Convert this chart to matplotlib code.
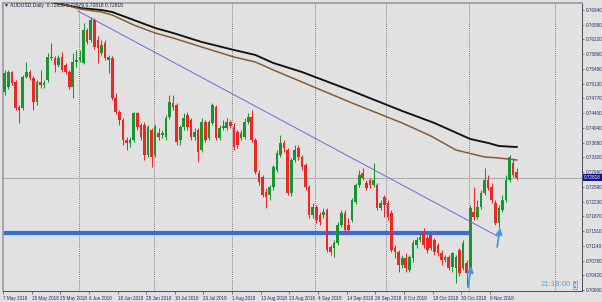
import numpy as np
import matplotlib
matplotlib.use('Agg')
import matplotlib.pyplot as plt
from matplotlib.transforms import blended_transform_factory
from matplotlib.patches import Polygon, Rectangle

# ---------------- data ----------------
OPEN = [0.74926, 0.75048, 0.75417, 0.75171, 0.74557, 0.74532, 0.75294, 0.75417, 0.75270, 0.74680,
        0.75171, 0.75098, 0.75220, 0.75786, 0.75761, 0.75589, 0.75786, 0.75589, 0.75417, 0.75048,
        0.75663, 0.75712, 0.75638, 0.76449, 0.76203, 0.76695, 0.76203, 0.75884, 0.76130, 0.75712,
        0.75761, 0.74778, 0.74434, 0.74238, 0.73746, 0.73673, 0.73746, 0.74410, 0.74115, 0.74115,
        0.73378, 0.73992, 0.73378, 0.73918, 0.73869, 0.73820, 0.74311, 0.74655, 0.74606, 0.73746,
        0.74066, 0.74360, 0.74238, 0.73820, 0.73992, 0.73501, 0.74189, 0.73795, 0.74164, 0.74557,
        0.73795, 0.74041, 0.74041, 0.74189, 0.74066, 0.73943, 0.73795, 0.73820, 0.74189, 0.74311,
        0.73746, 0.72935, 0.72837, 0.72469, 0.72395, 0.72591, 0.73009, 0.73378, 0.73673, 0.73501,
        0.72444, 0.73255, 0.73550, 0.73329, 0.73132, 0.72591, 0.71903, 0.72100, 0.71903, 0.71903,
        0.72026, 0.71117, 0.71093, 0.71216, 0.71658, 0.71953, 0.71658, 0.71781, 0.72223, 0.72641,
        0.72935, 0.72690, 0.72763, 0.72641, 0.72641, 0.72075, 0.72346, 0.72198, 0.71953, 0.71093,
        0.70994, 0.70675, 0.70847, 0.70552, 0.70847, 0.71166, 0.71289, 0.71461, 0.71338, 0.71412,
        0.71289, 0.71166, 0.70970, 0.70798, 0.70872, 0.70626, 0.70601, 0.71044, 0.70601, 0.70724,
        0.70601, 0.71977, 0.71854, 0.72100, 0.72444, 0.72763, 0.72591, 0.72198, 0.71707, 0.72026,
        0.72272, 0.72763, 0.73181, 0.72960]
HIGH = [0.75466, 0.75466, 0.75442, 0.75220, 0.74606, 0.75343, 0.75663, 0.75466, 0.75319, 0.75220,
        0.75466, 0.75220, 0.75884, 0.76130, 0.75810, 0.75835, 0.75908, 0.75638, 0.75466, 0.75884,
        0.75958, 0.75958, 0.76621, 0.76498, 0.76768, 0.76744, 0.76302, 0.76203, 0.76203, 0.75835,
        0.75810, 0.74901, 0.74483, 0.74287, 0.73820, 0.73820, 0.74434, 0.74434, 0.74164, 0.74189,
        0.74115, 0.74041, 0.74139, 0.74041, 0.73992, 0.74360, 0.74852, 0.74852, 0.74655, 0.74115,
        0.74410, 0.74434, 0.74287, 0.74041, 0.74041, 0.74287, 0.74238, 0.74238, 0.74655, 0.74606,
        0.74115, 0.74238, 0.74287, 0.74238, 0.74164, 0.73992, 0.73992, 0.74287, 0.74410, 0.74483,
        0.73795, 0.73009, 0.72886, 0.72567, 0.72641, 0.73132, 0.73501, 0.73869, 0.73746, 0.73550,
        0.73304, 0.73623, 0.73623, 0.73378, 0.73181, 0.72641, 0.72198, 0.72149, 0.71977, 0.72075,
        0.72075, 0.71166, 0.71289, 0.71731, 0.72026, 0.72026, 0.71830, 0.72321, 0.72690, 0.73009,
        0.73058, 0.72763, 0.72813, 0.73181, 0.72690, 0.72272, 0.72395, 0.72272, 0.72026, 0.71166,
        0.71044, 0.70921, 0.70970, 0.70921, 0.71289, 0.71363, 0.71461, 0.71584, 0.71412, 0.71486,
        0.71338, 0.71216, 0.71044, 0.70921, 0.70921, 0.70994, 0.70921, 0.71093, 0.71289, 0.70798,
        0.72149, 0.72591, 0.72272, 0.72518, 0.73058, 0.72886, 0.72690, 0.72272, 0.72149, 0.72395,
        0.72886, 0.73378, 0.73304, 0.73058]
LOW = [0.74852, 0.74999, 0.75098, 0.74483, 0.74164, 0.74483, 0.75270, 0.75220, 0.74483, 0.74606,
       0.75024, 0.75024, 0.75171, 0.75712, 0.75417, 0.75540, 0.75417, 0.75368, 0.74999, 0.74778,
       0.75540, 0.75663, 0.75614, 0.76105, 0.76154, 0.75982, 0.75638, 0.75835, 0.75712, 0.75392,
       0.74729, 0.74385, 0.74115, 0.73623, 0.73501, 0.73574, 0.73697, 0.73992, 0.73746, 0.73255,
       0.73329, 0.73083, 0.73329, 0.73746, 0.73795, 0.73746, 0.74262, 0.74483, 0.73623, 0.73623,
       0.73992, 0.73992, 0.73746, 0.73746, 0.73206, 0.73451, 0.73697, 0.73746, 0.74115, 0.73746,
       0.73746, 0.73992, 0.73992, 0.74041, 0.73501, 0.73550, 0.73746, 0.73771, 0.74139, 0.73697,
       0.72911, 0.72641, 0.72346, 0.72075, 0.72272, 0.72518, 0.72960, 0.73329, 0.73451, 0.72395,
       0.72370, 0.73206, 0.73255, 0.73009, 0.72518, 0.71830, 0.71830, 0.71707, 0.71658, 0.71830,
       0.70994, 0.70921, 0.70872, 0.71166, 0.71609, 0.71486, 0.71486, 0.71731, 0.72174, 0.72591,
       0.72763, 0.72518, 0.72567, 0.72591, 0.72026, 0.72026, 0.71854, 0.71781, 0.70994, 0.70847,
       0.70503, 0.70601, 0.70503, 0.70503, 0.70749, 0.71093, 0.71240, 0.71093, 0.70970, 0.71044,
       0.70921, 0.70896, 0.70675, 0.70749, 0.70552, 0.70503, 0.70233, 0.70405, 0.70552, 0.70134,
       0.70552, 0.71781, 0.71805, 0.72051, 0.72395, 0.72518, 0.72198, 0.71658, 0.71584, 0.71977,
       0.72223, 0.72714, 0.72837, 0.72763]
CLOSE = [0.75392, 0.75417, 0.75147, 0.74532, 0.74483, 0.75294, 0.75417, 0.75270, 0.74680, 0.75171,
         0.75098, 0.75147, 0.75786, 0.75761, 0.75589, 0.75761, 0.75466, 0.75417, 0.75048, 0.75663,
         0.75712, 0.75786, 0.76449, 0.76154, 0.76695, 0.76031, 0.76007, 0.76080, 0.75761, 0.75786,
         0.74778, 0.74434, 0.74238, 0.73746, 0.73673, 0.73746, 0.74410, 0.74066, 0.73820, 0.73378,
         0.74066, 0.73329, 0.74066, 0.73820, 0.73918, 0.74287, 0.74680, 0.74557, 0.73697, 0.74066,
         0.74287, 0.74066, 0.73820, 0.73943, 0.73451, 0.74189, 0.73746, 0.74189, 0.74606, 0.73795,
         0.74041, 0.74090, 0.74189, 0.74090, 0.73574, 0.73623, 0.73918, 0.74189, 0.74311, 0.73746,
         0.72960, 0.72714, 0.72395, 0.72346, 0.72591, 0.73083, 0.73427, 0.73673, 0.73550, 0.72444,
         0.73255, 0.73501, 0.73329, 0.73083, 0.72591, 0.71903, 0.72100, 0.71781, 0.71731, 0.71977,
         0.71044, 0.70994, 0.71216, 0.71658, 0.71953, 0.71535, 0.71535, 0.72272, 0.72641, 0.72886,
         0.72813, 0.72567, 0.72641, 0.72763, 0.72075, 0.72198, 0.72149, 0.71854, 0.71044, 0.70994,
         0.70675, 0.70847, 0.70601, 0.70872, 0.71216, 0.71289, 0.71363, 0.71166, 0.71044, 0.71093,
         0.70994, 0.70970, 0.70798, 0.70872, 0.70601, 0.70970, 0.70872, 0.70478, 0.71216, 0.70478,
         0.72075, 0.71854, 0.72100, 0.72444, 0.72763, 0.72567, 0.72272, 0.71707, 0.72075, 0.72272,
         0.72763, 0.73329, 0.72886, 0.72818]

# moving averages (read at selected bars)
MA_SLOW_BARS = [8, 13, 21, 27, 30, 36, 42, 47, 55, 64, 70, 75, 83, 97, 111, 120, 130, 135, 138, 143]
MA_SLOW = [0.77235, 0.77137, 0.76989, 0.76940, 0.76891, 0.76695, 0.76498, 0.76375, 0.76154, 0.75958,
           0.75835, 0.75638, 0.75417, 0.74950, 0.74459, 0.74164, 0.73771, 0.73673, 0.73599, 0.73574]
MA_FAST_BARS = [10, 15, 21, 27, 30, 36, 42, 47, 55, 64, 70, 75, 83, 97, 111, 119, 126, 134, 138, 143]
MA_FAST = [0.77235, 0.77112, 0.76965, 0.76891, 0.76817, 0.76572, 0.76375, 0.76252, 0.76031, 0.75786,
           0.75663, 0.75466, 0.75171, 0.74655, 0.74164, 0.73845, 0.73501, 0.73329, 0.73304, 0.73255]

TREND_BARS = [20.4, 137.8]
TREND_PRICES = [0.76916, 0.71375]
SUPPORT_LEVEL = 0.71473
SUPPORT_END_BAR = 130.5
LAST_PRICE = 0.72818

ARROW_FROM = [(129.4, 0.70134), (137.5, 0.71117)]
ARROW_TO = [(130.3, 0.70650), (138.4, 0.71584)]

MONTH_START_BARS = [21, 42, 64, 87, 107, 130, 154]
DATE_LABEL_BARS = [0, 8, 16, 24, 32, 40, 48, 56, 64, 72, 80, 88, 96, 104, 112, 120, 128, 136]
DATE_LABELS = ['7 May 2018', '15 May 2018', '25 May 2018', '6 Jun 2018', '18 Jun 2018',
               '28 Jun 2018', '10 Jul 2018', '20 Jul 2018', '1 Aug 2018', '13 Aug 2018',
               '23 Aug 2018', '4 Sep 2018', '14 Sep 2018', '26 Sep 2018', '8 Oct 2018',
               '18 Oct 2018', '30 Oct 2018', '9 Nov 2018']
Y_TICK_LABELS = ['0.76940', '0.76580', '0.76220', '0.75860', '0.75490', '0.75130', '0.74770',
                 '0.74400', '0.74040', '0.73680', '0.73320', '0.72960', '0.72590', '0.72230',
                 '0.71870', '0.71510', '0.71140', '0.70780', '0.70420', '0.70060']
TITLE = '\u25bc AUDUSD,Daily  0.72838 0.72879 0.72818 0.72818'
CLOCK = '21:18:00'

# ---------------- styling ----------------
BG = '#e1e1e1'
GREEN = '#17962d'
RED = '#ee2626'
AXC = '#25256e'
FONT = ['Liberation Sans', 'DejaVu Sans']

W, H = 602, 302
fig = plt.figure(figsize=(W / 100, H / 100), dpi=100, facecolor=BG)
ax = fig.add_axes([3 / W, 11 / H, 579 / W, 288 / H])
ax.set_facecolor(BG)

n = len(CLOSE)
x = np.arange(n)
o = np.array(OPEN); c = np.array(CLOSE); hi = np.array(HIGH); lo = np.array(LOW)
up = c >= o
cols = np.where(up, GREEN, RED)

# month separators
for b in MONTH_START_BARS:
    ax.axvline(b - 0.4, color='#5a5a6a', lw=0.6, ls=(0, (1, 1.5)), zorder=1)

# current price line
ax.axhline(LAST_PRICE, color='#a8a8a8', lw=0.7, zorder=1)

# support level
ax.plot([-1, SUPPORT_END_BAR], [SUPPORT_LEVEL, SUPPORT_LEVEL], color='#3b6bd6', lw=3.0,
        solid_capstyle='butt', zorder=2)

# candles
ax.vlines(x, lo, hi, colors=cols, lw=0.75, zorder=3)
body = np.maximum(np.abs(c - o), 0.00012)
ax.bar(x, body, bottom=np.minimum(o, c), width=0.74, color=cols, lw=0, zorder=4)

# moving averages
ax.plot(MA_SLOW_BARS, MA_SLOW, color='#111111', lw=1.35, zorder=5)
ax.plot(MA_FAST_BARS, MA_FAST, color='#8a5a30', lw=1.1, zorder=5)

# trend line
ax.plot(TREND_BARS, TREND_PRICES, color='#6a6ad6', lw=0.7, zorder=5)

# arrows
for (x0, y0), (x1, y1) in zip(ARROW_FROM, ARROW_TO):
    ax.annotate('', xy=(x1, y1), xytext=(x0, y0),
                arrowprops=dict(arrowstyle='-|>,head_length=0.35,head_width=0.18',
                                color='#3d9be6', lw=1.3, shrinkA=0, shrinkB=0), zorder=6)

ax.set_xlim((3 - 4) / 3.585, (582 - 4) / 3.585)
ax.set_ylim(0.70036, 0.77112)

# spines
for s in ['top', 'left']:
    ax.spines[s].set_color('#9a9aa8')
    ax.spines[s].set_linewidth(1.2)
ax.spines['right'].set_color('#4a4a5a')
ax.spines['right'].set_linewidth(0.7)
ax.spines['bottom'].set_color('#4a4a5a')
ax.spines['bottom'].set_linewidth(0.7)

# y ticks on the right
ax.yaxis.tick_right()
ax.set_yticks([float(v) for v in Y_TICK_LABELS])
ax.set_yticklabels(Y_TICK_LABELS, fontsize=3.3, color=AXC, family=FONT)
ax.tick_params(axis='y', direction='out', length=1.6, width=0.5, colors='#4a4a5a', pad=1.2,
               labelcolor=AXC)

# x ticks
ax.set_xticks([b - 0.5 for b in DATE_LABEL_BARS])
ax.set_xticklabels(DATE_LABELS, fontsize=3.3, color=AXC, family=FONT, ha='left')
ax.tick_params(axis='x', direction='out', length=2.5, width=0.5, colors='#4a4a5a', pad=0.8,
               labelcolor=AXC)
for lab in ax.get_xticklabels():
    lab.set_horizontalalignment('left')

# current price label box
tr = blended_transform_factory(ax.transAxes, ax.transData)
ax.text(1.003, LAST_PRICE, '%.5f' % LAST_PRICE, transform=tr, fontsize=3.3, family=FONT,
        color='white', va='center', ha='left', zorder=10,
        bbox=dict(boxstyle='square,pad=0.25', fc='#12128a', ec='none'))

# title
fig.text(4 / W, 1 - 6 / H, TITLE, fontsize=3.6, family=FONT, color='#1a1a3a', va='center', ha='left')

# clock
fig.text(541 / W, 1 - 285 / H, CLOCK, fontsize=5.6, family=FONT, color='#5c9ee0',
         va='center', ha='left')
# small hourglass icon
ix, iy = 575 / W, 1 - 285 / H
fig.patches.append(Rectangle((ix - 2.2 / W, iy - 4 / H), 4.4 / W, 8 / H, transform=fig.transFigure,
                             fill=False, ec='#5c9ee0', lw=0.5))
fig.patches.append(Polygon([(ix - 1.3 / W, iy + 3 / H), (ix + 1.3 / W, iy + 3 / H),
                            (ix, iy), (ix + 1.3 / W, iy - 3 / H),
                            (ix - 1.3 / W, iy - 3 / H), (ix, iy)],
                           closed=True, transform=fig.transFigure, fc='#5c9ee0', ec='none'))

fig.savefig('out.png', dpi=100, facecolor=BG)
